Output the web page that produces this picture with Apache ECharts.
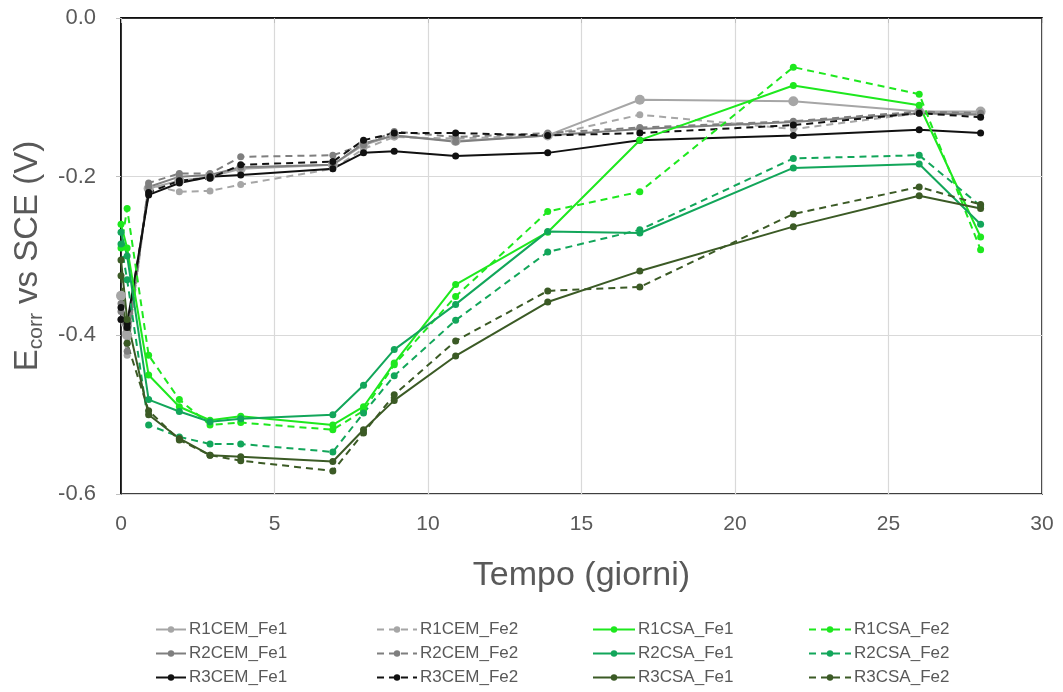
<!DOCTYPE html>
<html>
<head>
<meta charset="utf-8">
<script src="https://cdn.jsdelivr.net/npm/echarts@6/dist/echarts.min.js"></script>
<style>html,body{margin:0;padding:0;background:#fff;}#c{width:1063px;height:692px;}</style>
</head>
<body>
<div id="c"></div>
<script>
const days = [0, 0.2, 0.9, 1.9, 2.9, 3.9, 6.9, 7.9, 8.9, 10.9, 13.9, 16.9, 21.9, 26, 28];

const R1CEM_Fe1 = [-0.35, -0.40, -0.215, -0.205, -0.200, -0.190, -0.185, -0.160, -0.148, -0.155, -0.148, -0.103, -0.105, -0.118, -0.118];
const R1CEM_Fe2 = [-0.38, -0.425, -0.210, -0.219, -0.218, -0.210, -0.190, -0.165, -0.150, -0.152, -0.148, -0.122, -0.140, -0.120, -0.120];
const R2CEM_Fe1 = [-0.37, -0.41, -0.213, -0.200, -0.198, -0.188, -0.185, -0.158, -0.148, -0.156, -0.148, -0.140, -0.131, -0.120, -0.122];
const R2CEM_Fe2 = [-0.36, -0.42, -0.208, -0.196, -0.196, -0.175, -0.173, -0.160, -0.143, -0.150, -0.145, -0.138, -0.130, -0.118, -0.120];
const R3CEM_Fe1 = [-0.38, -0.385, -0.223, -0.208, -0.200, -0.198, -0.190, -0.170, -0.168, -0.174, -0.170, -0.154, -0.148, -0.141, -0.145];
const R3CEM_Fe2 = [-0.365, -0.39, -0.220, -0.205, -0.202, -0.185, -0.181, -0.154, -0.145, -0.145, -0.148, -0.145, -0.135, -0.120, -0.125];

const R1CSA_Fe1 = [-0.26, -0.29, -0.450, -0.490, -0.507, -0.502, -0.513, -0.490, -0.435, -0.336, -0.270, -0.154, -0.085, -0.110, -0.276];
const R1CSA_Fe2 = [-0.29, -0.24, -0.425, -0.481, -0.513, -0.510, -0.519, -0.495, -0.437, -0.351, -0.244, -0.219, -0.062, -0.096, -0.292];
const R2CSA_Fe1 = [-0.27, -0.30, -0.481, -0.496, -0.509, -0.505, -0.500, -0.463, -0.418, -0.361, -0.269, -0.271, -0.189, -0.184, -0.260];
const R2CSA_Fe2 = [-0.285, -0.33, -0.513, -0.528, -0.537, -0.537, -0.547, -0.498, -0.451, -0.381, -0.295, -0.267, -0.177, -0.173, -0.237];
const R3CSA_Fe1 = [-0.305, -0.38, -0.500, -0.530, -0.551, -0.553, -0.559, -0.519, -0.482, -0.426, -0.358, -0.319, -0.263, -0.224, -0.240];
const R3CSA_Fe2 = [-0.325, -0.41, -0.495, -0.532, -0.551, -0.558, -0.571, -0.523, -0.475, -0.407, -0.344, -0.339, -0.247, -0.213, -0.235];

const xTicks = [0, 5, 10, 15, 20, 25, 30];
const yTicks = [-0.6, -0.4, -0.2, 0.0];

const FONT = '"Liberation Sans", Arial, sans-serif';
const TXT = '#595959';

const defs = [
  ['R1CEM_Fe1', R1CEM_Fe1, '#a6a6a6', 'solid', 10],
  ['R1CEM_Fe2', R1CEM_Fe2, '#a6a6a6', 'dashed', 7],
  ['R2CEM_Fe1', R2CEM_Fe1, '#7f7f7f', 'solid', 7],
  ['R2CEM_Fe2', R2CEM_Fe2, '#7f7f7f', 'dashed', 7],
  ['R3CEM_Fe1', R3CEM_Fe1, '#111111', 'solid', 7],
  ['R3CEM_Fe2', R3CEM_Fe2, '#111111', 'dashed', 7],
  ['R1CSA_Fe1', R1CSA_Fe1, '#1ee81e', 'solid', 7],
  ['R1CSA_Fe2', R1CSA_Fe2, '#1ee81e', 'dashed', 7],
  ['R2CSA_Fe1', R2CSA_Fe1, '#12a65a', 'solid', 7],
  ['R2CSA_Fe2', R2CSA_Fe2, '#12a65a', 'dashed', 7],
  ['R3CSA_Fe1', R3CSA_Fe1, '#3b5a25', 'solid', 7],
  ['R3CSA_Fe2', R3CSA_Fe2, '#3b5a25', 'dashed', 7]
];

const series = defs.map(d => ({
  name: d[0],
  type: 'line',
  data: days.map((t, i) => [t, d[1][i]]),
  symbol: 'circle',
  symbolSize: d[4],
  showSymbol: true,
  animation: false,
  lineStyle: { color: d[2], width: 2, type: d[3] === 'dashed' ? [7, 5] : 'solid' },
  itemStyle: { color: d[2] },
  emphasis: { disabled: true }
}));

function legendCol(names, left, w) {
  return {
    orient: 'vertical',
    left: left,
    top: 621,
    height: 90,
    padding: 0,
    itemWidth: w,
    itemHeight: 8,
    itemGap: 7,
    data: names,
    selectedMode: false,
    textStyle: { fontFamily: FONT, fontSize: 17, color: TXT, lineHeight: 15.5, padding: [0, 0, 0, -2] }
  };
}

const option = {
  backgroundColor: '#fff',
  animation: false,
  grid: { left: 121, right: 21, top: 18, bottom: 198, show: true, borderColor: '#000', borderWidth: 1.5, backgroundColor: 'transparent' },
  legend: [
    legendCol(['R1CEM_Fe1', 'R2CEM_Fe1', 'R3CEM_Fe1'], 155, 30),
    legendCol(['R1CEM_Fe2', 'R2CEM_Fe2', 'R3CEM_Fe2'], 376, 40),
    legendCol(['R1CSA_Fe1', 'R2CSA_Fe1', 'R3CSA_Fe1'], 592, 42),
    legendCol(['R1CSA_Fe2', 'R2CSA_Fe2', 'R3CSA_Fe2'], 808, 42)
  ],
  xAxis: {
    type: 'value', min: xTicks[0], max: xTicks[xTicks.length - 1], interval: 5,
    name: 'Tempo (giorni)', nameLocation: 'middle', nameGap: 65,
    nameTextStyle: { fontFamily: FONT, fontSize: 34, color: TXT },
    axisLine: { show: true, lineStyle: { color: '#000', width: 1.5 } },
    axisTick: { show: true, length: 5, lineStyle: { color: '#bfbfbf' } },
    axisLabel: { fontFamily: FONT, fontSize: 21, color: TXT, margin: 20 },
    splitLine: { show: true, lineStyle: { color: '#d9d9d9', width: 1.2 } }
  },
  yAxis: {
    type: 'value', min: yTicks[0], max: yTicks[yTicks.length - 1], interval: 0.2,
    name: '{a|E}{b|corr}{a| vs SCE (V)}', nameLocation: 'middle', nameGap: 73, nameRotate: 90,
    nameTextStyle: {
      fontFamily: FONT, color: TXT,
      rich: {
        a: { fontFamily: FONT, fontSize: 33, color: TXT, lineHeight: 40 },
        b: { fontFamily: FONT, fontSize: 21, color: TXT, lineHeight: 40, padding: [18, 0, 0, 0] }
      }
    },
    axisLine: { show: true, lineStyle: { color: '#000', width: 1.5 } },
    axisTick: { show: true, length: 5, lineStyle: { color: '#bfbfbf' } },
    axisLabel: { fontFamily: FONT, fontSize: 22, color: TXT, margin: 25, formatter: v => v.toFixed(1) },
    splitLine: { show: true, lineStyle: { color: '#d9d9d9', width: 1.2 } }
  },
  series: series
};

const chart = echarts.init(document.getElementById('c'), null, { renderer: 'canvas' });
chart.setOption(option);
</script>
</body>
</html>
